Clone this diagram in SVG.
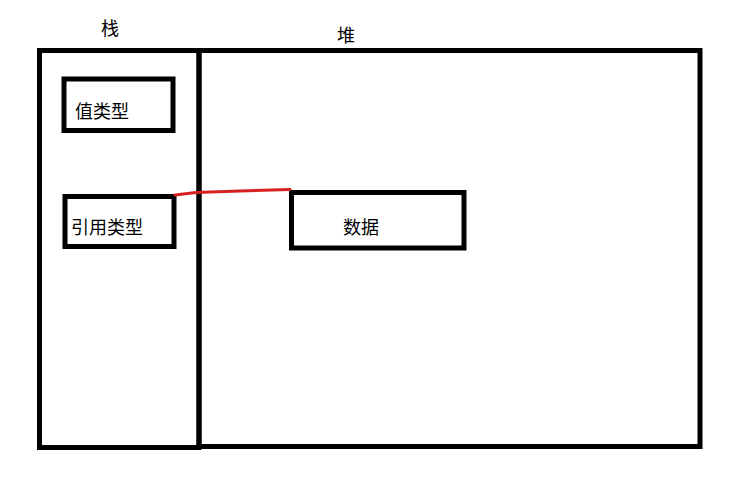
<svg xmlns="http://www.w3.org/2000/svg" width="746" height="482" viewBox="0 0 746 482">
<style>
.box{fill:none;stroke:#000;stroke-width:5}
.t{font-family:"Noto Sans CJK SC","Noto Sans",sans-serif;font-size:18px;fill:#000}
.link{fill:none;stroke:#d42020;stroke-width:3;stroke-linecap:round;stroke-linejoin:round}
</style>
<rect width="746" height="482" fill="#fff"/>
<g id="heap">
<rect class="box" x="199" y="50.5" width="501" height="396"/>
<text class="t" x="337" y="42">堆</text>
</g>
<g id="stack">
<rect class="box" x="39.5" y="50.5" width="159.5" height="397"/>
<text class="t" x="101" y="35">栈</text>
</g>
<g id="value-type">
<rect class="box" x="64" y="79" width="109" height="51.5"/>
<text class="t" x="75" y="118">值类型</text>
</g>
<g id="ref-type">
<rect class="box" x="65" y="196.5" width="109" height="50"/>
<text class="t" x="71" y="234">引用类型</text>
</g>
<g id="data">
<rect class="box" x="291.5" y="192.5" width="172.5" height="55.5"/>
<text class="t" x="343" y="234">数据</text>
</g>
<g id="connectors">
<path class="link" d="M175 195 L196 192.5 L240 191 L290 189.5"/>
</g>
</svg>
